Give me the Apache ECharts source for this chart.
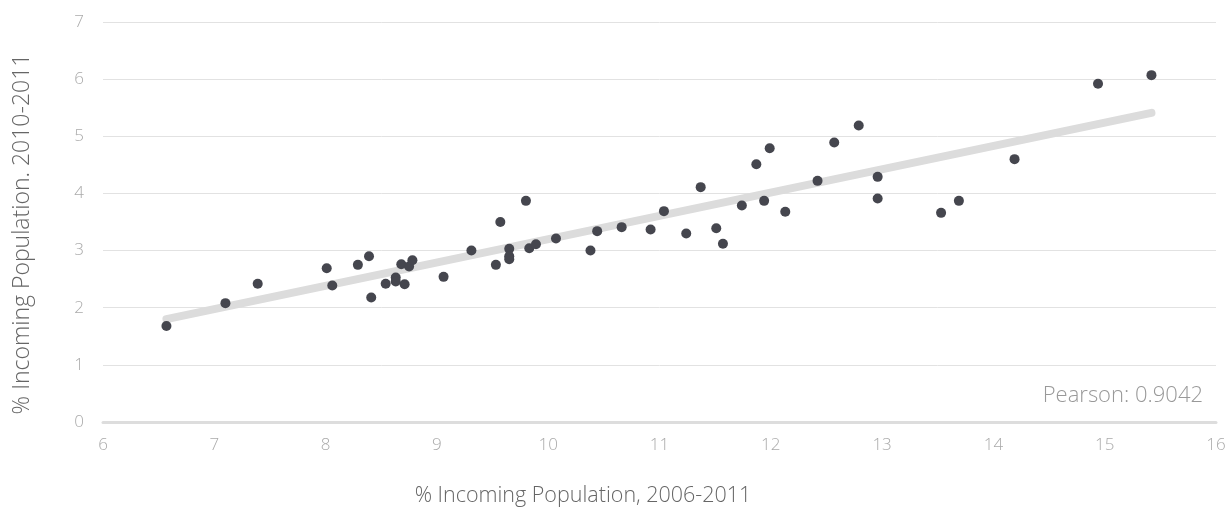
<!DOCTYPE html>
<html>
<head>
<meta charset="utf-8">
<script src="https://cdn.jsdelivr.net/npm/echarts@6/dist/echarts.min.js"></script>
<style>
  html, body { margin: 0; padding: 0; background: #fff; }
  #chart { width: 1230px; height: 511px; }
</style>
</head>
<body>
<div id="chart"></div>
<script>
// % incoming population 2006-2011 (x) vs 2010-2011 (y)
const xValues = [6.57, 7.1, 7.39, 8.01, 8.06, 8.29, 8.39, 8.41, 8.54, 8.63, 8.63, 8.71, 8.68, 8.75, 8.78,
  9.06, 9.31, 9.57, 9.8, 9.53, 9.65, 9.65, 9.65, 9.83, 9.89, 10.07, 10.38, 10.44, 10.66, 10.92,
  11.04, 11.24, 11.51, 11.57, 11.37, 11.74, 11.87, 11.99, 11.94, 12.13, 12.42, 12.57, 12.79,
  12.96, 12.96, 13.53, 13.69, 14.19, 14.94, 15.42];
const yValues = [1.68, 2.08, 2.42, 2.69, 2.39, 2.75, 2.9, 2.18, 2.42, 2.53, 2.46, 2.41, 2.76, 2.72, 2.83,
  2.54, 3.0, 3.5, 3.87, 2.75, 3.03, 2.9, 2.85, 3.04, 3.11, 3.21, 3.0, 3.34, 3.41, 3.37,
  3.69, 3.3, 3.39, 3.12, 4.11, 3.79, 4.51, 4.79, 3.87, 3.68, 4.22, 4.89, 5.19,
  4.29, 3.91, 3.66, 3.87, 4.6, 5.92, 6.07];
const trendX = [6.57, 15.42];
const trendY = [1.8, 5.41];
const xTicks = [6, 16, 1];
const yTicks = [0, 7, 1];
const xTitle = '% Incoming Population, 2006-2011';
const yTitle = '% Incoming Population. 2010-2011';
const pearsonText = 'Pearson: 0.9042';

const font = '"Open Sans", Lato, sans-serif';
const chart = echarts.init(document.getElementById('chart'));
chart.setOption({
  animation: false,
  grid: { left: 103, right: 14, top: 22, bottom: 89 },
  graphic: [
    {
      type: 'text',
      x: 583,
      y: 496,
      style: { text: xTitle, fill: '#666', font: '300 21.5px ' + font, align: 'center', verticalAlign: 'middle' }
    },
    {
      type: 'text',
      x: 22,
      y: 234,
      rotation: Math.PI / 2,
      style: { text: yTitle, fill: '#666', font: '300 23px ' + font, align: 'center', verticalAlign: 'middle' }
    },
    {
      type: 'text',
      x: 1203,
      y: 396,
      style: { text: pearsonText, fill: '#999', font: '300 22px ' + font, align: 'right', verticalAlign: 'middle' }
    }
  ],
  xAxis: {
    type: 'value',
    min: xTicks[0],
    max: xTicks[1],
    interval: xTicks[2],
    axisLine: { show: true, lineStyle: { color: '#ddd', width: 3 } },
    axisTick: { show: false },
    splitLine: { show: false },
    axisLabel: { color: '#aaa', fontSize: 17, fontWeight: 300, fontFamily: font, margin: 15 }
  },
  yAxis: {
    type: 'value',
    min: yTicks[0],
    max: yTicks[1],
    interval: yTicks[2],
    axisLine: { show: false },
    axisTick: { show: false },
    splitLine: { lineStyle: { color: '#e2e2e2', width: 1 } },
    axisLabel: { color: '#aaa', fontSize: 17, fontWeight: 300, fontFamily: font, margin: 19 }
  },
  series: [
    {
      type: 'line',
      data: trendX.map((x, i) => [x, trendY[i]]),
      symbol: 'none',
      lineStyle: { color: '#dcdcdc', width: 8, cap: 'round' },
      z: 1
    },
    {
      type: 'scatter',
      data: xValues.map((x, i) => [x, yValues[i]]),
      symbolSize: 10,
      itemStyle: { color: '#45464e', opacity: 1 },
      z: 2
    }
  ]
});
</script>
</body>
</html>
